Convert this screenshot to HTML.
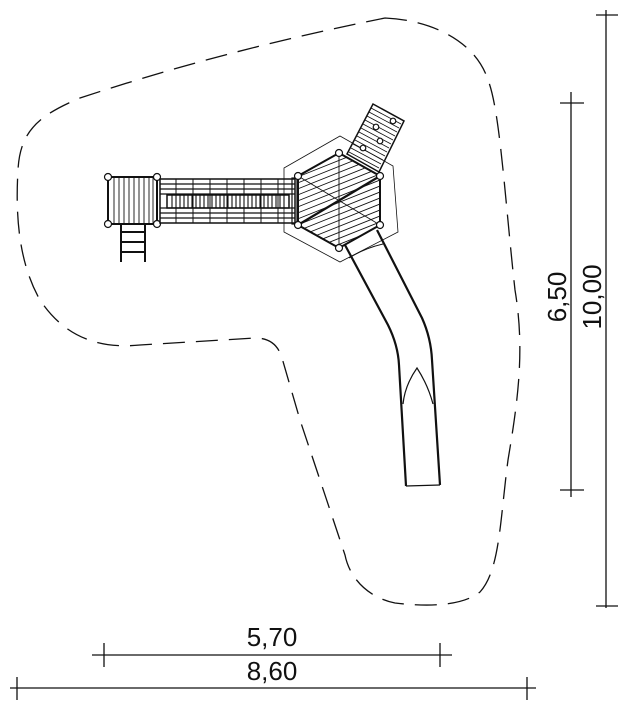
<!DOCTYPE html>
<html><head><meta charset="utf-8"><style>
html,body{margin:0;padding:0;background:#fff;width:624px;height:703px;overflow:hidden}
svg{display:block}
text{font-family:"Liberation Sans",sans-serif;font-size:26px;fill:#111}
</style></head><body>
<svg width="624" height="703" viewBox="0 0 624 703" xmlns="http://www.w3.org/2000/svg">
<g fill="none" stroke="#111" stroke-width="1.3">
<path d="M385,18 C430,20 475,40 488,80 C500,110 505,200 515,290 C525,350 518,400 508,460 C500,520 500,570 480,592 C460,608 420,606 395,603 C370,598 350,580 345,555 L300,420 L282,358 C278,345 270,338 255,338 L140,345 C90,350 60,330 40,300 C20,265 15,220 18,170 C20,130 40,115 80,98 C150,75 250,45 385,18 Z" stroke-dasharray="22,11"/>
<line x1="606" y1="10" x2="606" y2="608"/>
<line x1="596" y1="15" x2="618" y2="15"/>
<line x1="596" y1="606" x2="618" y2="606"/>
<line x1="571" y1="92" x2="571" y2="497"/>
<line x1="560" y1="103" x2="584" y2="103"/>
<line x1="560" y1="490" x2="584" y2="490"/>
<line x1="92" y1="655" x2="452" y2="655"/>
<line x1="104" y1="643" x2="104" y2="667"/>
<line x1="440" y1="643" x2="440" y2="667"/>
<line x1="10" y1="688" x2="536" y2="688"/>
<line x1="17" y1="677" x2="17" y2="700"/>
<line x1="527" y1="677" x2="527" y2="700"/>
</g>
<text x="272" y="646" text-anchor="middle">5,70</text>
<text x="272" y="680" text-anchor="middle">8,60</text>
<text transform="translate(566,297) rotate(-90)" text-anchor="middle">6,50</text>
<text transform="translate(601,297) rotate(-90)" text-anchor="middle">10,00</text>

<g fill="none" stroke="#111" stroke-width="1.2">
<rect x="108" y="177" width="49" height="47" stroke-width="2"/>
<g stroke-width="0.9">
<line x1="114" y1="177" x2="114" y2="224"/><line x1="119" y1="177" x2="119" y2="224"/><line x1="124" y1="177" x2="124" y2="224"/><line x1="129" y1="177" x2="129" y2="224"/><line x1="134" y1="177" x2="134" y2="224"/><line x1="139" y1="177" x2="139" y2="224"/><line x1="144" y1="177" x2="144" y2="224"/><line x1="149" y1="177" x2="149" y2="224"/><line x1="153" y1="177" x2="153" y2="224"/>
</g>
<g fill="#fff" stroke-width="1.2"><circle cx="108" cy="177" r="3.5"/><circle cx="157" cy="177" r="3.5"/><circle cx="108" cy="224" r="3.5"/><circle cx="157" cy="224" r="3.5"/></g>
<line x1="121" y1="225" x2="121" y2="262" stroke-width="2"/><line x1="145" y1="225" x2="145" y2="262" stroke-width="2"/>
<line x1="121" y1="232" x2="145" y2="232" stroke-width="2"/><line x1="121" y1="242" x2="145" y2="242" stroke-width="2"/><line x1="121" y1="252" x2="145" y2="252" stroke-width="2"/>
<rect x="160" y="179" width="135" height="44" stroke-width="1.5"/>
<line x1="160" y1="184" x2="295" y2="184"/><line x1="160" y1="189" x2="295" y2="189"/><line x1="160" y1="194" x2="295" y2="194"/>
<line x1="160" y1="208" x2="295" y2="208"/><line x1="160" y1="213" x2="295" y2="213"/><line x1="160" y1="218" x2="295" y2="218"/>
<rect x="167" y="195" width="122" height="13" stroke-width="1.5"/>
<path d="M172,195v13M176,195v13M180,195v13M184,195v13M188,195v13M192,195v13M196,195v13M200,195v13M204,195v13M208,195v13M212,195v13M216,195v13M220,195v13M224,195v13M228,195v13M232,195v13M236,195v13M240,195v13M244,195v13M248,195v13M252,195v13M256,195v13M260,195v13M264,195v13M268,195v13M272,195v13M276,195v13M280,195v13M284,195v13" stroke-width="1.1"/>
<path d="M176,179v44M193,179v44M210,179v44M227,179v44M244,179v44M261,179v44M278,179v44" stroke-width="1"/>
<rect x="292" y="178" width="5" height="46"/>
<polygon points="340,136 393,166 398,232 340,262 284,232 284,168" stroke-width="0.8"/>
<polygon points="373,104 404,121 379,172 347,154" stroke-width="1.5"/>
<path d="M371,108l30,16M369,112l30,16M367,116l30,16M365,120l30,16M363,124l30,16M361,128l30,16M359,132l30,16M357,136l30,16M355,140l30,16M353,144l30,16M351,148l30,16M349,152l30,16" stroke-width="0.8"/>
<g fill="#fff"><circle cx="393" cy="121" r="2.8"/><circle cx="376" cy="127" r="2.8"/><circle cx="380" cy="141" r="2.8"/><circle cx="363" cy="148" r="2.8"/></g>
<polygon points="339,153 380,176 380,225 339,248 298,225 298,176" stroke-width="2"/>
<clipPath id="hx"><polygon points="339,153 380,176 380,225 339,248 298,225 298,176"/></clipPath>
<g clip-path="url(#hx)" stroke-width="0.9">
<path d="M290,180l100,-40M290,186l100,-40M290,192l100,-40M290,198l100,-40M290,204l100,-40M290,210l100,-40M290,216l100,-40M290,222l100,-40M290,228l100,-40M290,234l100,-40M290,240l100,-40M290,246l100,-40M290,252l100,-40M290,258l100,-40M290,264l100,-40M290,270l100,-40M290,276l100,-40M290,282l100,-40"/>
<line x1="339" y1="150" x2="339" y2="250"/>
<line x1="298" y1="176" x2="380" y2="225"/>
</g>
<line x1="298" y1="225" x2="380" y2="176" stroke-width="2.2"/>
<g fill="#fff"><circle cx="339" cy="153" r="3.5"/><circle cx="380" cy="176" r="3.5"/><circle cx="380" cy="225" r="3.5"/><circle cx="339" cy="248" r="3.5"/><circle cx="298" cy="225" r="3.5"/><circle cx="298" cy="176" r="3.5"/></g>
<path d="M345,245 L388,325 Q398,345 399,365 L406,486" stroke-width="2.2"/>
<path d="M377,230 L422,318 Q431,338 432,360 L440,485" stroke-width="2.2"/>
<line x1="406" y1="486" x2="440" y2="485"/>
<path d="M349,258 Q365,248 383,244" stroke-width="1"/>
<path d="M403,404 Q405,385 417,368 Q428,385 433,404" stroke-width="1.2"/>
</g>
</svg>
</body></html>
